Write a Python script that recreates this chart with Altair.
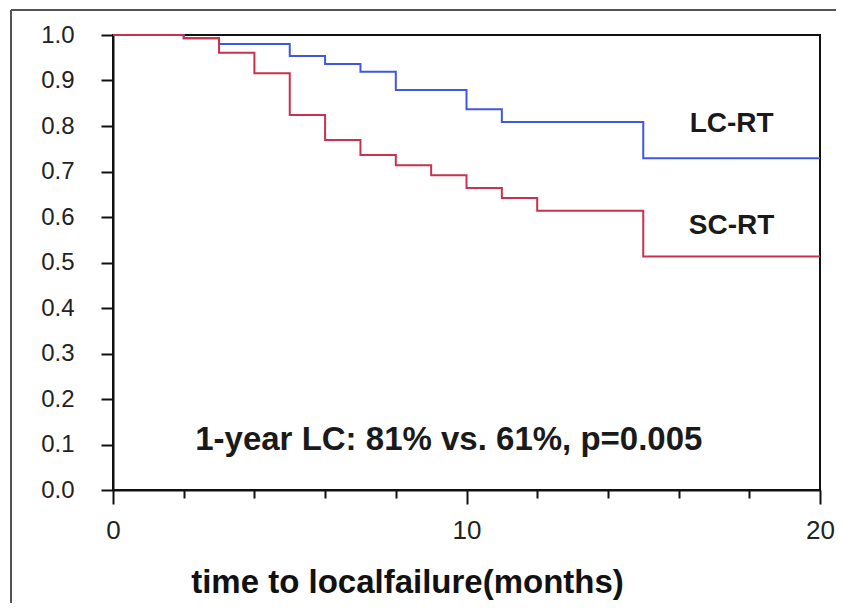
import altair as alt
import pandas as pd

# Kaplan-Meier estimates
lc_time = [0, 2, 3, 5, 6, 7, 8, 10, 11, 15, 20]
lc_surv = [1.0, 0.993, 0.980, 0.954, 0.936, 0.919, 0.879, 0.837, 0.809, 0.729, 0.729]
sc_time = [0, 2, 3, 4, 5, 6, 7, 8, 9, 10, 11, 12, 15, 20]
sc_surv = [1.0, 0.993, 0.961, 0.916, 0.824, 0.769, 0.736, 0.714, 0.692, 0.664, 0.642, 0.614, 0.513, 0.513]
groups = ["LC-RT", "SC-RT"]
colors = ["#4058e0", "#c8324c"]

x_ticks = [0, 2, 4, 6, 8, 10, 12, 14, 16, 18, 20]
y_ticks = [round(i * 0.1, 1) for i in range(11)]
annotation = "1-year LC: 81% vs. 61%, p=0.005"
x_title = "time to localfailure(months)"

df = pd.concat([
    pd.DataFrame({"time": lc_time, "surv": lc_surv, "group": groups[0]}),
    pd.DataFrame({"time": sc_time, "surv": sc_surv, "group": groups[1]}),
])
one = pd.DataFrame({"k": [0]})

FONT = "Liberation Sans"
xscale = alt.Scale(domain=[0, 20], nice=False)
yscale = alt.Scale(domain=[0, 1], nice=False)

lines = alt.Chart(df).mark_line(interpolate="step-after", strokeWidth=2).encode(
    x=alt.X("time:Q", scale=xscale, axis=alt.Axis(
        values=x_ticks,
        tickSize={"expr": "datum.value % 10 === 0 ? 14 : 8"},
        labelExpr="datum.value % 10 === 0 ? datum.label : ''",
        tickWidth=2, domainWidth=2, domainColor="#111",
        tickColor="#111", labelFontSize=26, labelFont=FONT, labelColor="#222",
        labelPadding=13, labelFlush=False, grid=False, orient="bottom", title=x_title,
        titleFont=FONT, titleFontSize=33, titleFontWeight="bold", titleColor="#111",
        titleX=294, titleY=102, titleBaseline="alphabetic", titleAlign="center")),
    y=alt.Y("surv:Q", scale=yscale, axis=alt.Axis(
        values=y_ticks, format=".1f", tickSize=12, tickWidth=2, domainWidth=2,
        domainColor="#111", tickColor="#111", labelFontSize=24, labelFont=FONT,
        labelColor="#222", labelPadding=27, labelFlush=False, grid=False, title=None)),
    color=alt.Color("group:N", scale=alt.Scale(domain=groups, range=colors), legend=None),
)

def label(text, x, y, size):
    return alt.Chart(one).mark_text(
        font=FONT, fontSize=size, fontWeight="bold", color="#1a1a1a", align="center", baseline="middle"
    ).encode(x=alt.datum(x), y=alt.datum(y), text=alt.value(text))

lc_lab = label("LC-RT", 17.5, 0.804, 28)
sc_lab = label("SC-RT", 17.5, 0.580, 28)
ann = label(annotation, 9.5, 0.11, 33)

frame_left = alt.Chart(one).mark_rule(color="#555", strokeWidth=2).encode(
    x=alt.value(-102), y=alt.value(-25), y2=alt.value(570))
frame_top = alt.Chart(one).mark_rule(color="#555", strokeWidth=2).encode(
    x=alt.value(-102), x2=alt.value(731), y=alt.value(-25))

chart = alt.layer(lines, lc_lab, sc_lab, ann, frame_left, frame_top).properties(
    width=707, height=455,
    autosize=alt.AutoSizeParams(type="none"),
    padding={"left": 105, "top": 27, "right": 16, "bottom": 113},
    background="white",
).configure_view(stroke="#111", strokeWidth=2)

chart.save("out.html", embed_options={"renderer": "svg", "actions": False})
